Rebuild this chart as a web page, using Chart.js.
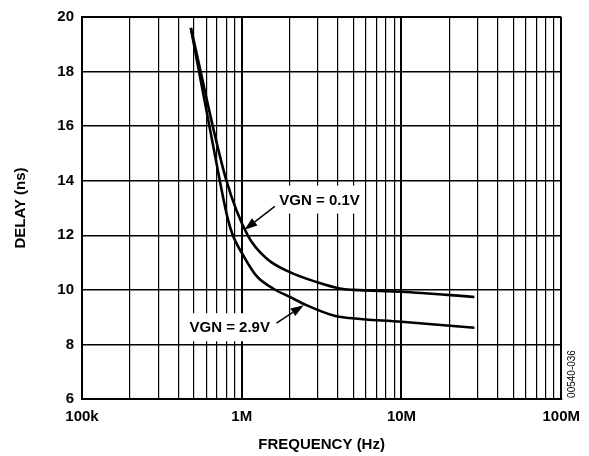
<!DOCTYPE html>
<html>
<head>
<meta charset="utf-8">
<script src="https://cdn.jsdelivr.net/npm/chart.js@4"></script>
<style>
  html, body { margin: 0; padding: 0; background: #fff; }
  #wrap { width: 589px; height: 456px; position: relative; }
</style>
</head>
<body>
<div id="wrap"><canvas id="c" width="589" height="456"></canvas></div>
<script>
// ---- data ----
const freqVgn01 = [480e3, 802e3, 1.09e6, 1.43e6, 2.0e6, 2.93e6, 4.1e6, 5.0e6, 10e6, 28.6e6];
const delayVgn01 = [19.6, 14.0, 12.0, 11.15, 10.65, 10.29, 10.05, 10.0, 9.93, 9.74];
const freqVgn29 = [480e3, 729e3, 818e3, 879e3, 1.025e6, 1.24e6, 1.57e6, 2.0e6, 2.54e6, 3.8e6, 4.7e6, 10e6, 28.6e6];
const delayVgn29 = [19.6, 14.0, 12.6, 12.0, 11.25, 10.5, 10.05, 9.74, 9.44, 9.05, 8.97, 8.83, 8.61];
const xTickLabels = { 1e5: '100k', 1e6: '1M', 1e7: '10M', 1e8: '100M' };
const yTicks = [6, 8, 10, 12, 14, 16, 18, 20];
const seriesLabels = ['VGN = 0.1V', 'VGN = 2.9V'];
// annotation anchors in data space: [text x, text y, arrow start x, y, arrow tip x, y]
const noteVgn01 = [3.07e6, 13.31, 1.61e6, 13.06, 1.04e6, 12.2];
const noteVgn29 = [8.41e5, 8.63, 1.65e6, 8.78, 2.44e6, 9.44];

const FONT = '"Liberation Sans", Arial, sans-serif';

function pts(xs, ys) { return xs.map((x, i) => ({ x: x, y: ys[i] })); }

const annotPlugin = {
  id: 'annot',
  beforeDatasetsDraw(chart) {
    const ctx = chart.ctx, xs = chart.scales.x, ys = chart.scales.y;
    ctx.save();
    ctx.font = 'bold 15px ' + FONT;
    [[noteVgn01, seriesLabels[0]], [noteVgn29, seriesLabels[1]]].forEach(([n, t]) => {
      const cx = xs.getPixelForValue(n[0]), cy = ys.getPixelForValue(n[1]);
      const w = ctx.measureText(t).width + 8;
      ctx.fillStyle = '#fff';
      ctx.fillRect(cx - w / 2, cy - 14, w, 28);
    });
    ctx.restore();
  },
  afterDatasetsDraw(chart) {
    const ctx = chart.ctx, xs = chart.scales.x, ys = chart.scales.y;
    ctx.save();
    ctx.font = 'bold 15px ' + FONT;
    ctx.fillStyle = '#000';
    ctx.strokeStyle = '#000';
    ctx.textAlign = 'center';
    ctx.textBaseline = 'middle';
    [[noteVgn01, seriesLabels[0]], [noteVgn29, seriesLabels[1]]].forEach(([n, t]) => {
      const cx = xs.getPixelForValue(n[0]), cy = ys.getPixelForValue(n[1]);
      ctx.fillText(t, cx, cy + 1);
      const x0 = xs.getPixelForValue(n[2]), y0 = ys.getPixelForValue(n[3]);
      const x1 = xs.getPixelForValue(n[4]), y1 = ys.getPixelForValue(n[5]);
      const ang = Math.atan2(y1 - y0, x1 - x0);
      const L = 13, W = 4.5;
      const bx = x1 - L * Math.cos(ang), by = y1 - L * Math.sin(ang);
      ctx.lineWidth = 1.5;
      ctx.beginPath();
      ctx.moveTo(x0, y0);
      ctx.lineTo(bx, by);
      ctx.stroke();
      ctx.beginPath();
      ctx.moveTo(x1, y1);
      ctx.lineTo(bx + W * Math.sin(ang), by - W * Math.cos(ang));
      ctx.lineTo(bx - W * Math.sin(ang), by + W * Math.cos(ang));
      ctx.closePath();
      ctx.fill();
    });
    // figure code
    ctx.font = '10px ' + FONT;
    ctx.translate(572, 374);
    ctx.rotate(-Math.PI / 2);
    ctx.fillText('00540-036', 0, 0);
    ctx.restore();
  }
};

function isDecade(v) {
  const l = Math.log10(v);
  return Math.abs(l - Math.round(l)) < 1e-9;
}

new Chart(document.getElementById('c'), {
  type: 'line',
  data: {
    datasets: [
      { label: seriesLabels[0], data: pts(freqVgn01, delayVgn01), borderColor: '#000', borderWidth: 2.6, pointRadius: 0, cubicInterpolationMode: 'monotone', fill: false },
      { label: seriesLabels[1], data: pts(freqVgn29, delayVgn29), borderColor: '#000', borderWidth: 2.6, pointRadius: 0, cubicInterpolationMode: 'monotone', fill: false }
    ]
  },
  options: {
    responsive: false,
    animation: false,
    events: [],
    layout: { padding: { left: 0, right: 27, top: 16, bottom: 0 } },
    plugins: { legend: { display: false }, tooltip: { enabled: false } },
    scales: {
      x: {
        type: 'logarithmic',
        min: 1e5, max: 1e8,
        afterBuildTicks(scale) {
          const t = [];
          for (let e = 5; e <= 8; e++) {
            for (let m = 1; m <= 9; m++) {
              const v = m * Math.pow(10, e);
              if (v <= 1e8) t.push({ value: v });
            }
          }
          scale.ticks = t;
        },
        afterFit(scale) { scale.height = 57; },
        ticks: {
          autoSkip: false, maxRotation: 0, padding: 9,
          color: '#000', font: { family: FONT, size: 15, weight: 'bold' },
          callback(v) { return xTickLabels[v] !== undefined ? xTickLabels[v] : ''; }
        },
        grid: {
          color: '#000', drawTicks: false,
          lineWidth(c) { const v = c.tick && c.tick.value; return (v && isDecade(v) && v !== 1e5) ? 2 : 1.2; }
        },
        border: { display: true, color: '#000', width: 2 },
        title: { display: true, text: 'FREQUENCY (Hz)', color: '#000', font: { family: FONT, size: 15, weight: 'bold' }, padding: { top: 0, bottom: 2 } }
      },
      y: {
        min: 6, max: 20,
        afterBuildTicks(scale) { scale.ticks = yTicks.map(v => ({ value: v })); },
        afterFit(scale) { scale.width = 82; },
        ticks: { padding: 8, color: '#000', font: { family: FONT, size: 15, weight: 'bold' } },
        grid: {
          color: '#000', drawTicks: false,
          lineWidth(c) { return (c.tick && c.tick.value === 20) ? 2 : 1.4; }
        },
        border: { display: true, color: '#000', width: 2 },
        title: { display: true, text: 'DELAY (ns)', color: '#000', font: { family: FONT, size: 15, weight: 'bold' }, padding: { top: 12, bottom: 0 } }
      }
    }
  },
  plugins: [annotPlugin]
});
</script>
</body>
</html>
